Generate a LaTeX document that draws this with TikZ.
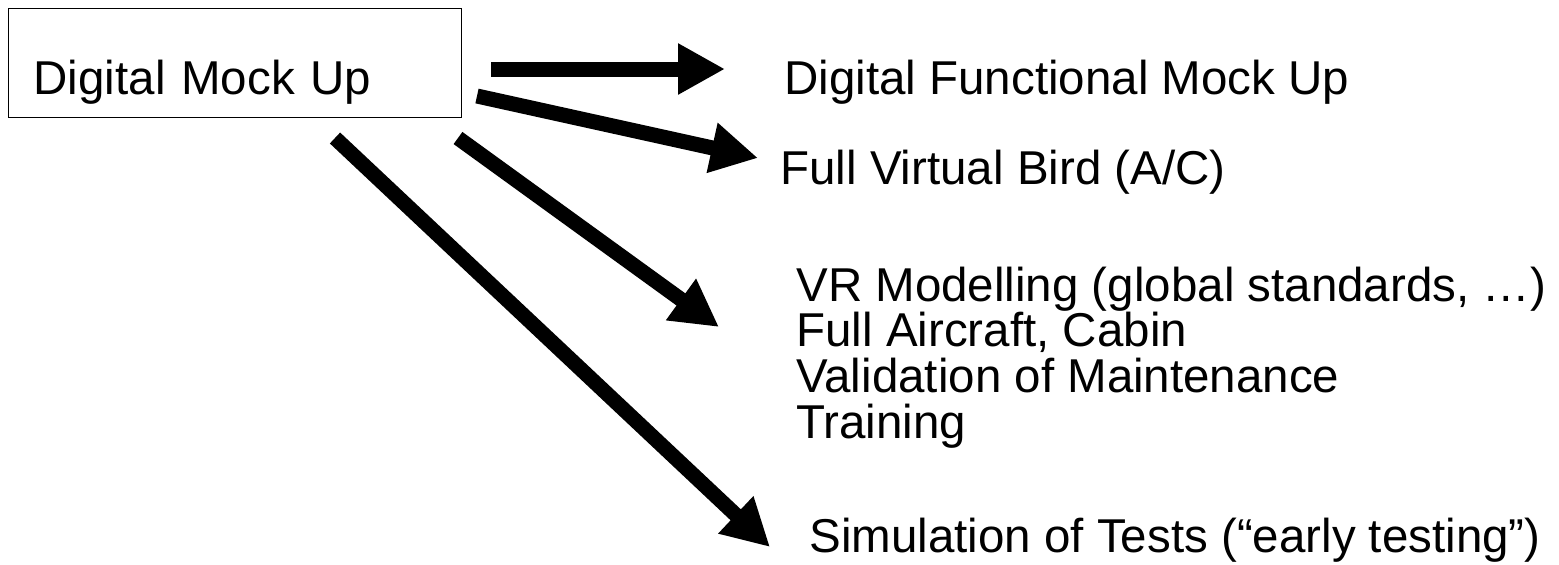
\documentclass[tikz,border=0pt]{standalone}
\usepackage{fontspec}
\setmainfont{Liberation Sans}
\usetikzlibrary{arrows.meta}
\tikzstyle{mockbox}=[draw,black,line width=0.6pt,anchor=north west,inner xsep=12.5pt,inner ysep=0pt,text width=201.5pt,align=left,text height=43pt,text depth=11.5pt]
\tikzstyle{itemtext}=[anchor=base west,inner sep=0pt]
\tikzstyle{bigarrow} = [draw,black,line width=7.5pt,-{Triangle[length=23.5pt,width=24pt]}]

\begin{document}
\begin{tikzpicture}[x=0.5pt,y=-0.5pt,font=\fontsize{23.75pt}{22.8pt}\selectfont]
	\useasboundingbox (0,0) rectangle (1559,564);
	\node[mockbox] (dmu) at (8,8) {Digital Mock Up};
	\node[itemtext] (dfmu) at (784,94) {Digital Functional Mock Up};
	\node[itemtext] (fvb) at (780,184) {Full Virtual Bird (A/C)};
	% last line sits on the base anchor
	\node[itemtext,align=left] (vr) at (796,438) {VR Modelling (global standards, …)\\Full Aircraft, Cabin\\Validation of Maintenance\\Training};
	\node[itemtext] (sim) at (809,552) {Simulation of Tests (“early testing”)};
	\coordinate (s1) at (491,69);
	\coordinate (t1) at (725,69);
	\coordinate (s2) at (477,96);
	\coordinate (t2) at (758,158);
	\coordinate (s3) at (458,138);
	\coordinate (t3) at (719,327);
	\coordinate (s4) at (335,138);
	\coordinate (t4) at (770,547);
	\path[bigarrow] (s1) -- (t1);
	\path[bigarrow] (s2) -- (t2);
	\path[bigarrow] (s3) -- (t3);
	\path[bigarrow] (s4) -- (t4);
\end{tikzpicture}
\end{document}
